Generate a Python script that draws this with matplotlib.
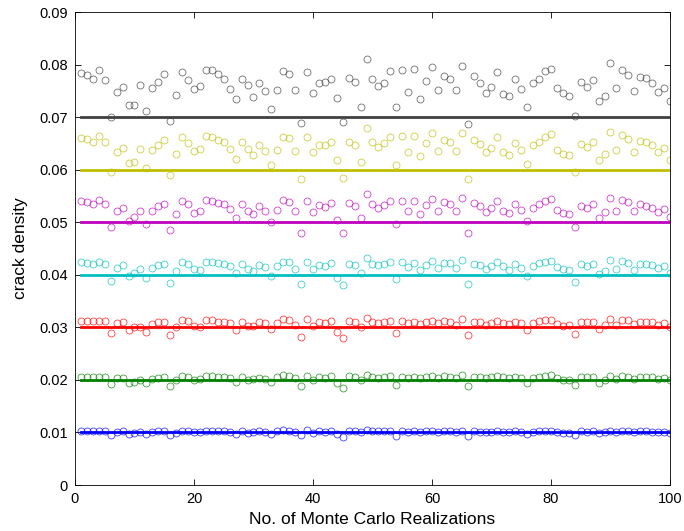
import numpy as np
from matplotlib import pyplot as plt

# номер реализации Монте-Карло
realizations = np.arange(1, 101)

# заданная плотность трещин (горизонтальные линии)
base_density = [0.01, 0.02, 0.03, 0.04, 0.05, 0.06, 0.07]

# оценки плотности по реализациям
blue = [0.0103, 0.0103, 0.0103, 0.0103, 0.0103, 0.0095, 0.0101, 0.0102, 0.0097, 0.0099, 0.0100, 0.0097, 0.0101,
        0.0102, 0.0103, 0.0095, 0.0099, 0.0103, 0.0103, 0.0100, 0.0100, 0.0103, 0.0103, 0.0103, 0.0103, 0.0101,
        0.0097, 0.0103, 0.0099, 0.0100, 0.0102, 0.0101, 0.0097, 0.0102, 0.0104, 0.0103, 0.0100, 0.0095, 0.0104,
        0.0099, 0.0102, 0.0101, 0.0103, 0.0097, 0.0092, 0.0103, 0.0102, 0.0100, 0.0104, 0.0103, 0.0102, 0.0102,
        0.0103, 0.0094, 0.0103, 0.0101, 0.0102, 0.0101, 0.0102, 0.0103, 0.0101, 0.0102, 0.0102, 0.0101, 0.0103,
        0.0094, 0.0102, 0.0101, 0.0100, 0.0101, 0.0103, 0.0101, 0.0100, 0.0102, 0.0101, 0.0097, 0.0101,
        0.0102, 0.0103, 0.0103, 0.0101, 0.0099, 0.0099, 0.0095, 0.0102, 0.0101, 0.0102, 0.0099, 0.0100, 0.0103,
        0.0101, 0.0103, 0.0102, 0.0101, 0.0102, 0.0102, 0.0101, 0.0100, 0.0101, 0.0099]
green = [0.0206, 0.0206, 0.0206, 0.0206, 0.0206, 0.0192, 0.0203, 0.0204, 0.0194, 0.0196, 0.0199, 0.0194, 0.0201,
         0.0204, 0.0205, 0.0189, 0.0199, 0.0208, 0.0206, 0.0200, 0.0201, 0.0208, 0.0208, 0.0206, 0.0205, 0.0203,
         0.0196, 0.0205, 0.0200, 0.0201, 0.0204, 0.0201, 0.0196, 0.0205, 0.0209, 0.0208, 0.0203, 0.0189, 0.0208,
         0.0199, 0.0205, 0.0204, 0.0208, 0.0194, 0.0185, 0.0208, 0.0205, 0.0199, 0.0209, 0.0206, 0.0204, 0.0205,
         0.0208, 0.0190, 0.0206, 0.0204, 0.0206, 0.0204, 0.0206, 0.0208, 0.0203, 0.0208, 0.0206, 0.0203, 0.0209,
         0.0189, 0.0206, 0.0205, 0.0203, 0.0205, 0.0208, 0.0205, 0.0203, 0.0205, 0.0203, 0.0195, 0.0204,
         0.0206, 0.0208, 0.0209, 0.0204, 0.0200, 0.0200, 0.0190, 0.0205, 0.0205, 0.0206, 0.0195, 0.0200, 0.0208,
         0.0201, 0.0208, 0.0206, 0.0201, 0.0205, 0.0205, 0.0205, 0.0201, 0.0204, 0.0199]
red = [0.0313, 0.0313, 0.0313, 0.0313, 0.0312, 0.0290, 0.0309, 0.0310, 0.0294, 0.0300, 0.0301, 0.0292, 0.0306,
       0.0310, 0.0311, 0.0285, 0.0300, 0.0314, 0.0313, 0.0303, 0.0301, 0.0314, 0.0314, 0.0311, 0.0311, 0.0309,
       0.0295, 0.0311, 0.0303, 0.0303, 0.0310, 0.0308, 0.0297, 0.0308, 0.0315, 0.0314, 0.0304, 0.0282, 0.0315,
       0.0303, 0.0311, 0.0308, 0.0313, 0.0292, 0.0280, 0.0313, 0.0310, 0.0300, 0.0318, 0.0311, 0.0309, 0.0310,
       0.0313, 0.0290, 0.0313, 0.0308, 0.0311, 0.0306, 0.0310, 0.0313, 0.0308, 0.0313, 0.0310, 0.0305, 0.0315,
       0.0285, 0.0311, 0.0310, 0.0305, 0.0309, 0.0313, 0.0309, 0.0306, 0.0310, 0.0308, 0.0295, 0.0309,
       0.0313, 0.0314, 0.0314, 0.0306, 0.0303, 0.0304, 0.0287, 0.0310, 0.0310, 0.0311, 0.0297, 0.0305, 0.0315,
       0.0304, 0.0314, 0.0314, 0.0306, 0.0310, 0.0310, 0.0311, 0.0305, 0.0309, 0.0301]
cyan = [0.0424, 0.0423, 0.0421, 0.0425, 0.0421, 0.0389, 0.0413, 0.0418, 0.0398, 0.0404, 0.0411, 0.0393, 0.0412,
        0.0418, 0.0421, 0.0385, 0.0407, 0.0425, 0.0421, 0.0411, 0.0410, 0.0425, 0.0425, 0.0422, 0.0421, 0.0416,
        0.0403, 0.0421, 0.0411, 0.0407, 0.0419, 0.0415, 0.0397, 0.0416, 0.0425, 0.0425, 0.0411, 0.0382, 0.0425,
        0.0411, 0.0419, 0.0416, 0.0422, 0.0394, 0.0380, 0.0421, 0.0419, 0.0404, 0.0432, 0.0421, 0.0418, 0.0420,
        0.0424, 0.0392, 0.0425, 0.0415, 0.0423, 0.0410, 0.0419, 0.0426, 0.0413, 0.0422, 0.0422, 0.0413, 0.0429,
        0.0383, 0.0421, 0.0418, 0.0411, 0.0417, 0.0425, 0.0416, 0.0410, 0.0420, 0.0412, 0.0397, 0.0416,
        0.0422, 0.0425, 0.0426, 0.0415, 0.0411, 0.0410, 0.0387, 0.0420, 0.0417, 0.0421, 0.0402, 0.0408, 0.0429,
        0.0411, 0.0426, 0.0422, 0.0410, 0.0420, 0.0420, 0.0418, 0.0412, 0.0416, 0.0404]
magenta = [0.0540, 0.0539, 0.0535, 0.0543, 0.0535, 0.0490, 0.0522, 0.0527, 0.0502, 0.0510, 0.0522, 0.0497, 0.0522,
           0.0531, 0.0535, 0.0485, 0.0515, 0.0541, 0.0535, 0.0518, 0.0522, 0.0543, 0.0541, 0.0536, 0.0534, 0.0525,
           0.0508, 0.0535, 0.0522, 0.0515, 0.0530, 0.0522, 0.0501, 0.0524, 0.0543, 0.0539, 0.0522, 0.0480, 0.0541,
           0.0520, 0.0532, 0.0529, 0.0536, 0.0504, 0.0480, 0.0536, 0.0531, 0.0508, 0.0553, 0.0535, 0.0527, 0.0532,
           0.0541, 0.0497, 0.0541, 0.0522, 0.0541, 0.0515, 0.0532, 0.0545, 0.0522, 0.0538, 0.0535, 0.0521, 0.0546,
           0.0480, 0.0537, 0.0531, 0.0520, 0.0527, 0.0541, 0.0522, 0.0517, 0.0535, 0.0523, 0.0502, 0.0527,
           0.0535, 0.0540, 0.0544, 0.0523, 0.0518, 0.0516, 0.0490, 0.0531, 0.0527, 0.0535, 0.0508, 0.0519, 0.0546,
           0.0522, 0.0543, 0.0539, 0.0521, 0.0535, 0.0531, 0.0527, 0.0519, 0.0525, 0.0510]
yellow = [0.0660, 0.0658, 0.0653, 0.0665, 0.0652, 0.0596, 0.0634, 0.0642, 0.0612, 0.0615, 0.0640, 0.0604, 0.0637,
          0.0647, 0.0656, 0.0589, 0.0629, 0.0662, 0.0651, 0.0635, 0.0639, 0.0665, 0.0663, 0.0657, 0.0652, 0.0640,
          0.0621, 0.0652, 0.0640, 0.0627, 0.0646, 0.0636, 0.0609, 0.0637, 0.0663, 0.0660, 0.0636, 0.0583, 0.0662,
          0.0633, 0.0647, 0.0646, 0.0653, 0.0618, 0.0585, 0.0653, 0.0647, 0.0615, 0.0680, 0.0653, 0.0644, 0.0650,
          0.0663, 0.0609, 0.0665, 0.0634, 0.0665, 0.0626, 0.0650, 0.0669, 0.0636, 0.0657, 0.0652, 0.0636, 0.0670,
          0.0583, 0.0657, 0.0648, 0.0633, 0.0642, 0.0662, 0.0633, 0.0628, 0.0651, 0.0638, 0.0610, 0.0646,
          0.0653, 0.0662, 0.0667, 0.0638, 0.0630, 0.0628, 0.0596, 0.0649, 0.0643, 0.0652, 0.0618, 0.0629, 0.0672,
          0.0637, 0.0666, 0.0658, 0.0634, 0.0655, 0.0653, 0.0647, 0.0633, 0.0641, 0.0618]
black = [0.0783, 0.0780, 0.0772, 0.0789, 0.0771, 0.0701, 0.0747, 0.0758, 0.0723, 0.0723, 0.0761, 0.0711, 0.0756,
         0.0766, 0.0782, 0.0693, 0.0743, 0.0785, 0.0771, 0.0754, 0.0759, 0.0790, 0.0789, 0.0782, 0.0772, 0.0754,
         0.0734, 0.0772, 0.0761, 0.0738, 0.0765, 0.0750, 0.0715, 0.0751, 0.0787, 0.0782, 0.0751, 0.0688, 0.0785,
         0.0746, 0.0764, 0.0767, 0.0773, 0.0737, 0.0690, 0.0774, 0.0766, 0.0720, 0.0810, 0.0772, 0.0759, 0.0765,
         0.0788, 0.0719, 0.0790, 0.0747, 0.0792, 0.0735, 0.0769, 0.0796, 0.0751, 0.0778, 0.0772, 0.0751, 0.0797,
         0.0686, 0.0778, 0.0765, 0.0746, 0.0758, 0.0785, 0.0744, 0.0740, 0.0772, 0.0753, 0.0719, 0.0764,
         0.0773, 0.0787, 0.0792, 0.0756, 0.0745, 0.0741, 0.0702, 0.0767, 0.0758, 0.0770, 0.0730, 0.0740, 0.0803,
         0.0756, 0.0789, 0.0780, 0.0749, 0.0777, 0.0775, 0.0764, 0.0747, 0.0756, 0.0731]

series = [blue, green, red, cyan, magenta, yellow, black]
# цвета как в старом MATLAB
colors = ['#0000ff', '#008000', '#ff0000', '#00bfbf', '#bf00bf', '#bfbf00', '#404040']

plt.rcParams['font.family'] = ['Liberation Sans', 'DejaVu Sans']
plt.rcParams['font.size'] = 10.5

fig = plt.figure(figsize=(6.84, 5.31), dpi=100)
ax = fig.add_axes([0.1096, 0.0866, 0.8699, 0.8908])

for vals, base, col in zip(series, base_density, colors):
    # кружки - оценки, линия - истинное значение
    ax.plot(realizations, vals, 'o', mfc='none', mec=col, ms=5, mew=0.6, alpha=0.75)
    ax.plot(realizations, np.full(len(realizations), base), '-', color=col, lw=2)

ax.set_xlim(0, 100)
ax.set_ylim(0, 0.09)
ax.set_xticks([0, 20, 40, 60, 80, 100])
ax.set_yticks(np.arange(0, 0.0901, 0.01))
ax.set_yticklabels(['0', '0.01', '0.02', '0.03', '0.04', '0.05', '0.06', '0.07', '0.08', '0.09'])
ax.tick_params(direction='in', top=True, right=True, length=4, width=0.6, pad=5)
for s in ax.spines.values():
    s.set_linewidth(0.6)

ax.set_xlabel('No. of Monte Carlo Realizations', fontsize=12.5, labelpad=4)
ax.set_ylabel('crack density', fontsize=12.5, labelpad=8)

fig.savefig('out.png', dpi=100)
